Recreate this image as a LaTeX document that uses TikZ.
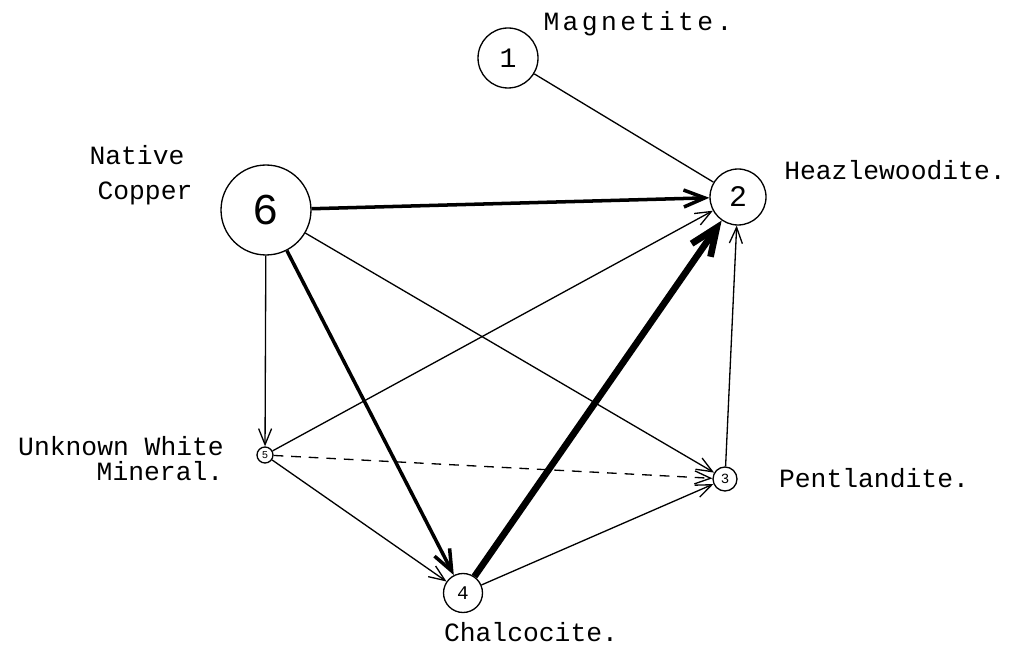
\documentclass[tikz,border=0pt]{standalone}
\usepackage{fontspec}
\setmainfont{Liberation Mono}
\usetikzlibrary{arrows.meta}

\begin{document}
\begin{tikzpicture}[x=0.02cm, y=-0.02cm,
    mineral/.style={circle, draw, line width=0.75pt, inner sep=0pt},
    mineralname/.style={font=\fontsize{15}{18}\selectfont},
    thinflow/.style={line width=0.75pt, -{Straight Barb[length=3.2mm,width=2.6mm]}},
    thickflow/.style={line width=2pt, -{Straight Barb[length=4.2mm,width=3.4mm]}},
    heavyflow/.style={line width=3.8pt, -{Straight Barb[length=5.5mm,width=4.6mm]}}]

    \useasboundingbox (0,0) rectangle (1013,651);

    % ==================================================
    % minerals
    % ==================================================

    \node[mineral, minimum size=1.2cm, font=\fontsize{16}{16}\selectfont] (magn) at (508,58) {1};
    \node[mineral, minimum size=1.12cm, font=\fontsize{17}{17}\selectfont] (heaz) at (738,197) {2};
    \node[mineral, minimum size=1.8cm, font=\fontsize{25}{25}\selectfont] (copp) at (266,210) {6};
    \node[mineral, minimum size=0.32cm, font=\fontsize{6}{6}\selectfont] (unkn) at (265,455) {5};
    \node[mineral, minimum size=0.48cm, font=\fontsize{8}{8}\selectfont] (pent) at (725,479) {3};
    \node[mineral, minimum size=0.78cm, font=\fontsize{11}{11}\selectfont] (chal) at (463,593) {4};

    % names
    \node[mineralname] (magnlbl) at (638,24) {\addfontfeature{LetterSpace=13}Magnetite.};
    \node[mineralname] (heazlbl) at (895,170) {Heazlewoodite.};
    \node[mineralname] (copplbla) at (137,155) {Native};
    \node[mineralname] (copplblb) at (145,193) {Copper};
    \node[mineralname] (unknlbla) at (121,446) {Unknown White};
    \node[mineralname] (unknlblb) at (160,471) {Mineral.};
    \node[mineralname] (pentlbl) at (874,478) {Pentlandite.};
    \node[mineralname] (challbl) at (531,632) {Chalcocite.};

    % ==================================================
    % connections
    % ==================================================

    % plain link
    \draw[line width=0.75pt] (magn) -- (heaz);

    % heavy lines
    \draw[thickflow] (copp) -- (heaz);
    \draw[thickflow] (copp) -- (chal);
    \draw[heavyflow] (chal) -- (heaz);

    % thin lines
    \draw[thinflow] (copp) -- (unkn);
    \draw[thinflow] (copp) -- (pent);
    \draw[thinflow] (unkn) -- (heaz);
    \draw[thinflow] (unkn) -- (chal);
    \draw[thinflow] (chal) -- (pent);
    \draw[thinflow] (pent) -- (heaz);

    % dashed
    \draw[thinflow, dash pattern=on 5.5pt off 4.5pt] (unkn) -- (pent);

\end{tikzpicture}
\end{document}
